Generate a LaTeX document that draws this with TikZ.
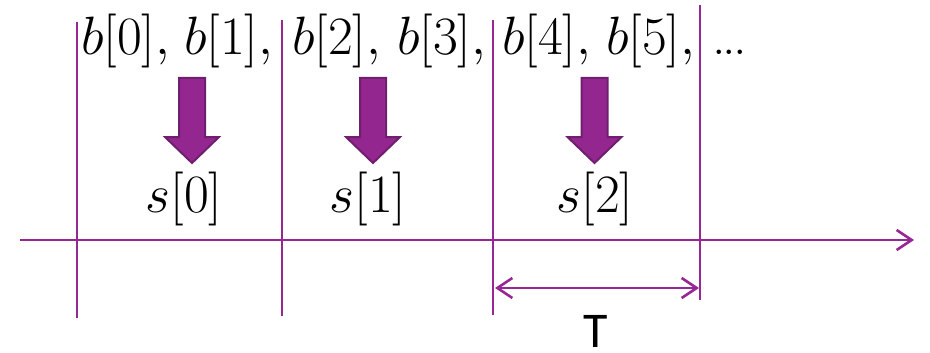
\documentclass[tikz,border=0pt]{standalone}
\usepackage{fix-cm}
\usepackage{fontspec}
\newfontfamily\tfont{Carlito}
\usetikzlibrary{arrows.meta}
\definecolor{pline}{RGB}{150,40,150}
\definecolor{pfill}{RGB}{147,39,143}
\definecolor{pedge}{RGB}{112,30,110}
\begin{document}
\begin{tikzpicture}[x=1pt,y=-1pt,
  pl/.style={draw=pline,line width=2.6pt},
  bigarrow/.style={fill=pfill,draw=pedge,line width=2pt,line join=miter},
  mtxt/.style={inner sep=0pt,font=\fontsize{54}{60}\selectfont},
  barb/.tip={Straight Barb[length=15pt,width=20pt,line width=2.6pt]}]
\useasboundingbox (0,0) rectangle (930,353);
% vertical lines
\coordinate (v0t) at (77,22);  \coordinate (v0b) at (77,318);
\coordinate (v1t) at (282,20); \coordinate (v1b) at (282,316);
\coordinate (v2t) at (493,20); \coordinate (v2b) at (493,315);
\coordinate (v3t) at (700,5);  \coordinate (v3b) at (700,300);
\draw[pl] (v0t) -- (v0b);
\draw[pl] (v1t) -- (v1b);
\draw[pl] (v2t) -- (v2b);
\draw[pl] (v3t) -- (v3b);
% axis
\coordinate (ax0) at (20,240); \coordinate (ax1) at (914,240);
\draw[pl,-barb] (ax0) -- (ax1);
% T dimension
\coordinate (d0) at (495,288); \coordinate (d1) at (699,288);
\draw[pl,barb-barb] (d0) -- (d1);
\node[inner sep=0pt,anchor=north,font=\tfont\fontsize{50}{56}\selectfont] (T) at (596,315) {T};
% text
\node[mtxt,anchor=base west] (b0) at (81,55) {$b[0],$};
\node[mtxt,anchor=base west] (b1) at (184,55) {$b[1],$};
\node[mtxt,anchor=base west] (b2) at (292,55) {$b[2],$};
\node[mtxt,anchor=base west] (b3) at (397,55) {$b[3],$};
\node[mtxt,anchor=base west] (b4) at (502,55) {$b[4],$};
\node[mtxt,anchor=base west] (b5) at (606,55) {$b[5],$};
\node[mtxt,anchor=base west] (dots) at (712,55) {.\kern-3pt.\kern-3pt.};
\node[mtxt,anchor=base] (s0) at (184,212) {$s[0]$};
\node[mtxt,anchor=base] (s1) at (368,212) {$s[1]$};
\node[mtxt,anchor=base] (s2) at (595,212) {$s[2]$};
% block arrows
\foreach \c/\n in {192/a0,373/a1,594.5/a2}{
  \draw[bigarrow] (\c-13,78) -- (\c+13,78) -- (\c+13,137) -- (\c+27,137) -- (\c,163) -- (\c-27,137) -- (\c-13,137) -- cycle;
}
\end{tikzpicture}
\end{document}
